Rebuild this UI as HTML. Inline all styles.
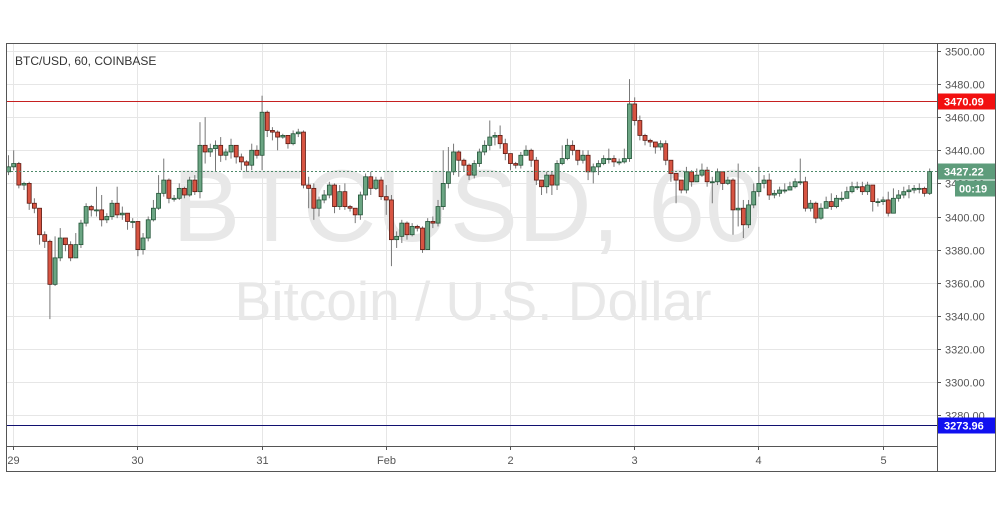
<!DOCTYPE html>
<html><head><meta charset="utf-8">
<style>
html,body{margin:0;padding:0;background:#fff;}
svg{display:block;font-family:"Liberation Sans",sans-serif;}
</style></head>
<body>
<svg id="chart" width="1002" height="508" viewBox="0 0 1002 508" xmlns="http://www.w3.org/2000/svg">
<rect x="0" y="0" width="1002" height="508" fill="#fff"/>
<g id="grid"></g>
<text x="467" y="241" font-size="102" fill="#e8e8e8" text-anchor="middle">BTCUSD, 60</text>
<text x="473" y="320" font-size="55" fill="#e8e8e8" text-anchor="middle">Bitcoin / U.S. Dollar</text>
<g id="candles"></g>
<g id="overlays"></g>
<text x="15" y="65" font-size="12" fill="#333">BTC/USD, 60, COINBASE</text>
<rect x="6.5" y="43.5" width="989" height="428" fill="none" stroke="#555"/>
<line x1="937.5" y1="43" x2="937.5" y2="472" stroke="#555"/>
<line x1="7" y1="446.5" x2="937" y2="446.5" stroke="#555"/>
</svg>
<script>
const closes=[3430,3432,3419,3420,3408,3405,3389,3385,3359,3375,3387,3383,3375,3383,3396,3406,3404,3404,3398,3400,3408,3401,3402,3397,3397,3380,3387,3398,3405,3414,3422,3411,3411,3417,3413,3422,3415,3443,3439,3441,3443,3437,3439,3443,3436,3433,3431,3440,3437,3463,3452,3451,3448,3449,3444,3450,3451,3419,3417,3405,3410,3413,3419,3406,3415,3406,3405,3401,3413,3424,3417,3422,3412,3410,3386,3388,3396,3389,3394,3393,3380,3397,3396,3406,3420,3427,3439,3434,3431,3425,3432,3439,3443,3448,3449,3444,3438,3432,3431,3437,3440,3434,3422,3418,3425,3419,3432,3435,3443,3440,3434,3437,3427,3430,3432,3435,3435,3433,3433,3435,3468,3458,3449,3446,3445,3442,3444,3434,3426,3422,3416,3427,3421,3425,3428,3421,3421,3427,3420,3422,3404,3405,3395,3407,3415,3420,3422,3413,3414,3416,3416,3418,3421,3421,3405,3408,3399,3405,3409,3406,3411,3411,3415,3418,3418,3415,3419,3409,3409,3410,3402,3411,3413,3415,3416,3417,3417,3414,3427.22];
const firstOpen=3427;
const highs=[3437,3440,3433,3421,3421,3411,3405,3391,3386,3388,3393,3387,3385,3390,3398,3408,3407,3418,3413,3402,3410,3418,3406,3401,3399,3397,3390,3400,3410,3425,3435,3423,3413,3420,3418,3424,3425,3457,3460,3444,3446,3448,3441,3447,3442,3438,3434,3444,3443,3473,3464,3454,3452,3450,3446,3452,3453,3452,3424,3420,3412,3416,3421,3420,3419,3420,3407,3404,3415,3426,3427,3424,3424,3419,3413,3391,3398,3397,3396,3395,3394,3399,3400,3410,3440,3442,3444,3440,3435,3432,3434,3441,3446,3458,3451,3455,3447,3436,3433,3439,3443,3441,3436,3421,3427,3427,3434,3443,3447,3446,3437,3440,3440,3432,3434,3437,3441,3437,3435,3441,3483,3472,3461,3450,3447,3444,3446,3446,3430,3426,3420,3430,3428,3429,3432,3430,3424,3429,3424,3424,3423,3432,3410,3410,3420,3430,3425,3426,3416,3418,3420,3421,3423,3435,3424,3410,3409,3408,3412,3414,3413,3415,3418,3421,3421,3421,3421,3416,3411,3412,3415,3417,3416,3418,3419,3419,3420,3418,3429];
const lows=[3425,3428,3417,3416,3404,3402,3383,3381,3338,3358,3373,3379,3373,3380,3381,3394,3400,3400,3394,3396,3398,3399,3398,3392,3393,3376,3377,3385,3397,3404,3412,3408,3409,3410,3411,3412,3413,3411,3432,3436,3427,3433,3434,3435,3432,3428,3427,3428,3435,3428,3448,3446,3440,3447,3441,3443,3448,3417,3405,3398,3400,3408,3411,3402,3404,3404,3403,3396,3398,3410,3413,3416,3410,3401,3370,3381,3384,3386,3388,3391,3378,3380,3393,3394,3404,3417,3425,3424,3427,3422,3423,3430,3437,3440,3443,3441,3434,3428,3429,3429,3437,3430,3419,3413,3414,3413,3416,3431,3434,3437,3431,3432,3422,3420,3425,3431,3432,3430,3431,3432,3433,3455,3446,3443,3442,3438,3440,3431,3421,3408,3414,3414,3418,3421,3424,3418,3408,3419,3416,3419,3389,3394,3387,3393,3405,3412,3417,3410,3411,3412,3414,3416,3417,3419,3403,3403,3396,3398,3406,3404,3405,3409,3412,3414,3416,3413,3413,3403,3406,3407,3400,3402,3409,3411,3411,3414,3414,3412,3413];
const priceTicks=[3280,3300,3320,3340,3360,3380,3400,3420,3440,3460,3480,3500];
const dayLabels=["29","30","31","Feb","2","3","4","5"];
const dayIndex=[0.9,24.9,48.9,72.9,96.9,120.9,144.9,168.9];
const resistance=3470.09, support=3273.96, lastPrice=3427.22;

const NS="http://www.w3.org/2000/svg";
const yOf=p=>51+(3500-p)*1.655;
const xOf=i=>8.5+i*5.175;
function mk(tag,attrs,parent,text){const e=document.createElementNS(NS,tag);for(const k in attrs)e.setAttribute(k,attrs[k]);if(text!==undefined)e.textContent=text;parent.appendChild(e);return e;}
const svg=document.getElementById('chart');
const grid=document.getElementById('grid');
const cg=document.getElementById('candles');
const ov=document.getElementById('overlays');

priceTicks.forEach(p=>{
  const y=Math.round(yOf(p))+0.5;
  const l=mk('line',{x1:7,x2:937,y1:y,y2:y,stroke:'#e6e6e6'},grid);
  
  
  mk('line',{x1:937,x2:941,y1:y,y2:y,stroke:'#555'},svg);
  const t=mk('text',{x:945,y:y+4,'font-size':11,fill:'#555'},svg,p.toFixed(2));
  
  
});
dayLabels.forEach((d,k)=>{
  const x=Math.round(xOf(dayIndex[k]))+0.5;
  const l=mk('line',{x1:x,x2:x,y1:44,y2:446,stroke:'#e6e6e6'},grid);
  
  
  mk('line',{x1:x,x2:x,y1:446,y2:450,stroke:'#555'},svg);
  const t=mk('text',{x:x,y:464,'font-size':11,fill:'#555','text-anchor':'middle'},svg,d);
  
  
});

closes.forEach((c,i)=>{
  const o=i===0?firstOpen:closes[i-1];
  const up=c>=o;
  const x=xOf(i);
  const hi=Math.max(highs[i],o,c), lo=Math.min(lows[i],o,c);
  const w=mk('line',{x1:x,x2:x,y1:yOf(hi),y2:yOf(lo),stroke:'#777','stroke-width':1},cg);
  
  
  const top=yOf(Math.max(o,c)), bot=yOf(Math.min(o,c));
  const b=mk('rect',{x:x-2,y:top,width:4,height:Math.max(1,bot-top),fill:up?'#6ba583':'#d75442',stroke:up?'#225437':'#5b1a13','stroke-width':0.8},cg);
  
  
});

function hline(p,color,name,dash){
  const y=Math.round(yOf(p))+0.5;
  const l=mk('line',{x1:7,x2:937,y1:y,y2:y,stroke:color,'stroke-width':1},ov);
  if(dash)l.setAttribute('stroke-dasharray',dash);
  
  
  return y;
}
function tag(y,color,txt,name){
  const r=mk('rect',{x:938,y:y-8,width:57,height:16,fill:color},svg);
  
  
  const t=mk('text',{x:944,y:y+4,'font-size':11,fill:'#fff','font-weight':'bold'},svg,txt);
  
  
}
const yr=hline(resistance,'#c62020','resistance-line');
tag(yr,'#f21010',resistance.toFixed(2),'resistance-price-tag');
const ys=hline(support,'#101070','support-line');
tag(ys,'#1010f0',support.toFixed(2),'support-price-tag');
const yl=hline(lastPrice,'#4f8a6a','last-price-line','2,2');
tag(yl,'#5e9c7b',lastPrice.toFixed(2),'last-price-tag');
const cr=mk('rect',{x:955,y:yl+9,width:40,height:16,fill:'#5e9c7b'},svg);


const ct=mk('text',{x:959,y:yl+21,'font-size':11,fill:'#fff','font-weight':'bold'},svg,'00:19');


</script>
</body></html>
